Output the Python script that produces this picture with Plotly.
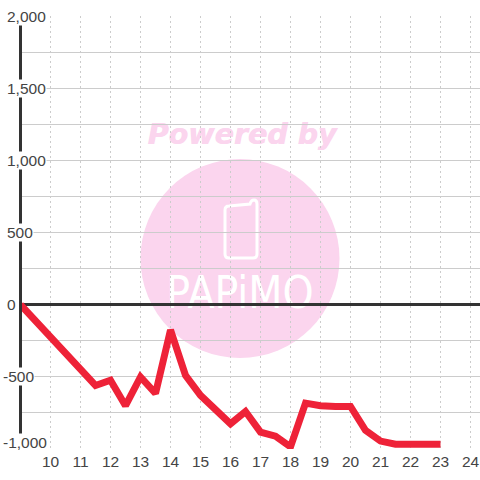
import plotly.graph_objects as go

hours = [9, 9.5, 10, 10.5, 11, 11.5, 12, 12.5, 13, 13.5, 14, 14.5, 15, 15.5, 16, 16.5,
         17, 17.5, 18, 18.5, 19, 19.5, 20, 20.5, 21, 21.5, 22, 22.5, 23]
values = [0, -112, -225, -335, -450, -560, -524, -700, -501, -615, -175, -490, -628, -733,
          -825, -740, -883, -911, -985, -682, -700, -705, -705, -871, -945, -967, -967, -967, -967]
x_ticks = list(range(10, 25))
y_labels = {2000: "2,000", 1500: "1,500", 1000: "1,000", 500: "500", 0: "0", -500: "-500", -1000: "-1,000"}

W, H = 480, 480
L, R, T, B = 22, 0, 16, 31
PINK = "#fbd5ee"


def px(x):
    return (x - L) / (W - L - R)


def py(y):
    return 1 - (y - T) / (H - T - B)


fig = go.Figure()
fig.add_trace(go.Scatter(x=hours, y=values, mode="lines", cliponaxis=False,
                         line=dict(color="#ee2238", width=7), hoverinfo="skip"))

shapes = [
    dict(type="circle", xref="paper", yref="paper", layer="below",
         x0=px(140.5), x1=px(339.5), y0=py(159), y1=py(358),
         fillcolor=PINK, line=dict(width=0)),
    dict(type="path", xref="paper", yref="paper", layer="below",
         path=(f"M {px(229)} {py(206)} L {px(250)} {py(204)} Q {px(251)} {py(200)} {px(254)} {py(200)} "
               f"Q {px(257)} {py(200)} {px(257)} {py(204)} L {px(257)} {py(254)} "
               f"Q {px(257)} {py(258)} {px(253)} {py(258)} L {px(229)} {py(258)} "
               f"Q {px(225)} {py(258)} {px(225)} {py(254)} L {px(225)} {py(210)} "
               f"Q {px(225)} {py(206)} {px(229)} {py(206)} Z"),
         fillcolor="rgba(0,0,0,0)", line=dict(color="white", width=3)),
    dict(type="rect", xref="paper", yref="paper", layer="below",
         x0=px(141), x1=px(343), y0=py(115), y1=py(149), line=dict(width=0),
         fillcolor="rgba(0,0,0,0)",
         label=dict(text="Powered by", textposition="middle center",
                    font=dict(family="DejaVu Sans", size=28.5, color=PINK, weight="bold", style="italic",
                              shadow="0.6px 0 0 #fbd5ee"))),
    dict(type="rect", xref="paper", yref="paper", layer="below",
         x0=px(170), x1=px(310), y0=py(270), y1=py(308), line=dict(width=0),
         fillcolor="rgba(0,0,0,0)",
         label=dict(text="PAPiMO", textposition="middle center",
                    font=dict(family="DejaVu Sans Condensed, Liberation Sans", size=44, color="white"))),
]

annotations = []
for v, t in y_labels.items():
    annotations.append(dict(
        xref="paper", yref="y", x=0, y=v, text=t, showarrow=False,
        xanchor="left", yanchor="middle", xshift=-20 if v < 0 else -16,
        yshift=7 if v == -1000 else 0, bgcolor="white", borderpad=0,
        font=dict(family="Liberation Sans", size=15.5, color="#444444")))

fig.update_layout(
    width=W, height=H, margin=dict(l=L, r=R, t=T, b=B, pad=0),
    paper_bgcolor="white", plot_bgcolor="rgba(0,0,0,0)", showlegend=False,
    shapes=shapes, annotations=annotations,
    xaxis=dict(range=[9 + 1.5 / 30, 24.3167], tickvals=x_ticks, showgrid=True,
               gridcolor="#cccccc", griddash="2px,3px", gridwidth=1, zeroline=False,
               showline=False, ticks="", ticklabelstandoff=1,
               tickfont=dict(family="Liberation Sans", size=15.5, color="#444444")),
    yaxis=dict(range=[-1000, 2000], dtick=250, showgrid=True, gridcolor="#cccccc", gridwidth=1,
               zeroline=True, zerolinecolor="#333333", zerolinewidth=3,
               showline=True, linecolor="#333333", linewidth=3, showticklabels=False, ticks=""),
)

fig.write_html("out.html", post_script="document.body.style.margin='0';",
               config={"displayModeBar": False})
